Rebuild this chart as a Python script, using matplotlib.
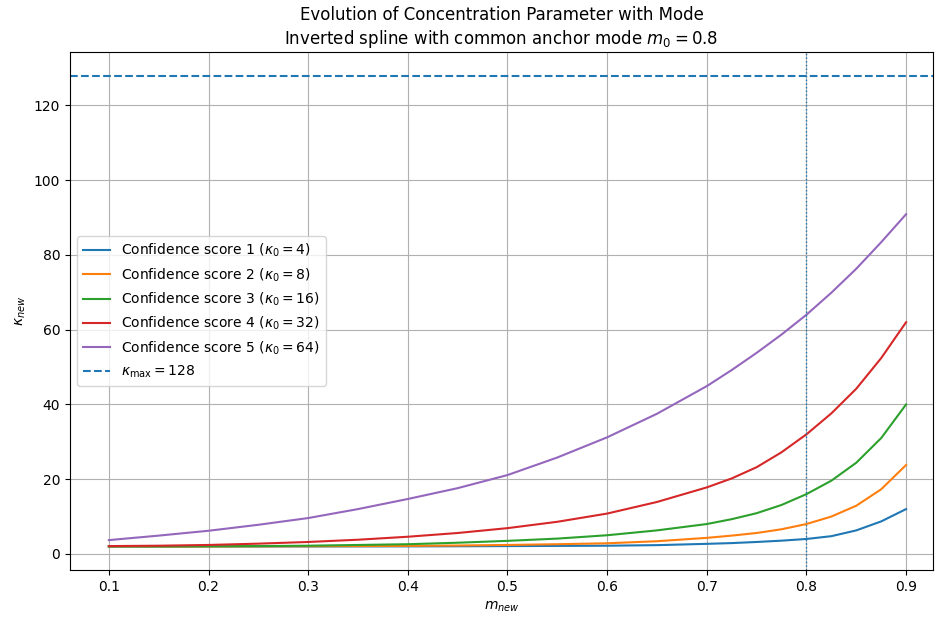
import numpy as np
from matplotlib import pyplot as plt

# values
m_new = [0.1, 0.15, 0.2, 0.25, 0.3, 0.35, 0.4, 0.45, 0.5, 0.55, 0.6,
         0.65, 0.7, 0.725, 0.75, 0.775, 0.8, 0.825, 0.85, 0.875, 0.9]

kappa0 = [4, 8, 16, 32, 64]

kappa_s1 = [2.0, 2.0, 2.0, 2.0, 2.0, 2.01, 2.02, 2.05, 2.1, 2.15, 2.2,
            2.35, 2.7, 2.9, 3.2, 3.55, 4.0, 4.75, 6.3, 8.7, 12.0]
kappa_s2 = [2.0, 2.0, 2.0, 2.02, 2.05, 2.1, 2.15, 2.25, 2.4, 2.6, 2.85,
            3.4, 4.3, 4.9, 5.6, 6.6, 8.0, 10.0, 12.9, 17.3, 23.8]
kappa_s3 = [2.0, 2.0, 2.05, 2.1, 2.2, 2.4, 2.6, 3.0, 3.5, 4.1, 5.0,
            6.3, 8.0, 9.3, 10.9, 13.1, 16.0, 19.6, 24.4, 31.0, 40.0]
kappa_s4 = [2.1, 2.2, 2.4, 2.75, 3.2, 3.8, 4.6, 5.6, 6.9, 8.6, 10.8,
            13.9, 17.8, 20.2, 23.2, 27.2, 32.0, 37.6, 44.2, 52.4, 62.0]
kappa_s5 = [3.7, 4.9, 6.2, 7.8, 9.6, 12.0, 14.7, 17.6, 21.1, 25.8, 31.2,
            37.5, 44.9, 49.2, 53.8, 58.7, 64.0, 69.9, 76.3, 83.4, 90.9]

kappa_max = 128
m0 = 0.8

series = [kappa_s1, kappa_s2, kappa_s3, kappa_s4, kappa_s5]

fig = plt.figure(figsize=(9.35, 6.17), dpi=100)
ax = fig.add_axes([70/935, 1 - 570/617, (933 - 70)/935, (570 - 52)/617])

for i, (k0, values) in enumerate(zip(kappa0, series)):
    ax.plot(m_new, values, linewidth=1.5,
            label=f'Confidence score {i+1} ($\\kappa_0 = {k0}$)')

ax.axhline(kappa_max, color='C0', linestyle='--', linewidth=1.5,
           label=f'$\\kappa_{{\\max}} = {kappa_max}$')
ax.axvline(m0, color='C0', linestyle=':', linewidth=1)

ax.set_xlim(0.061, 0.927)
ax.set_ylim(-4.3, 134.3)
ax.set_xticks(np.arange(0.1, 0.95, 0.1))
ax.grid(True)
ax.set_xlabel('$m_{new}$')
ax.set_ylabel('$\\kappa_{new}$')
ax.set_title('Evolution of Concentration Parameter with Mode\n'
             f'Inverted spline with common anchor mode $m_0 = {m0}$')
ax.legend(loc='center left')

fig.savefig('out.png', dpi=100)
